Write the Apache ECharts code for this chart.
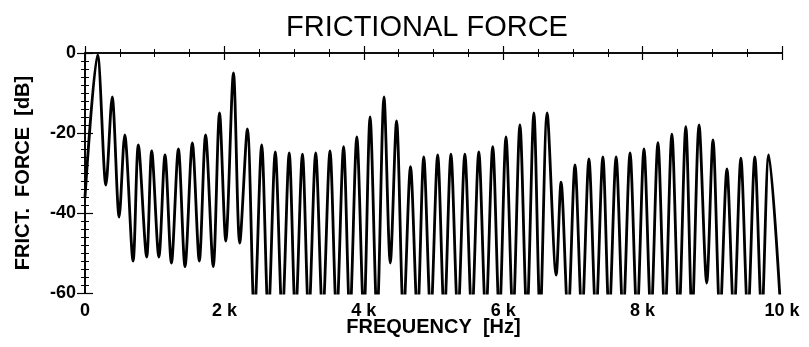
<!DOCTYPE html>
<html>
<head>
<meta charset="utf-8">
<script src="https://cdn.jsdelivr.net/npm/echarts@6/dist/echarts.min.js"></script>
<style>
  html, body { margin: 0; padding: 0; background: #fff; }
  #main { width: 809px; height: 347px; }
</style>
</head>
<body>
<div id="main"></div>
<script>
// spectrum: peaks and troughs (kHz, dB)
// troughs below the axis floor are estimated at -66 dB
var freqKHz = [
  0.0, 0.18, 0.30, 0.39, 0.49, 0.57, 0.69, 0.765, 0.885, 0.957,
  1.06, 1.148, 1.24, 1.34, 1.435, 1.54, 1.64, 1.73, 1.84, 1.93,
  2.02, 2.13, 2.22, 2.33, 2.43, 2.535, 2.63, 2.73, 2.83, 2.93,
  3.02, 3.12, 3.21, 3.31, 3.41, 3.515, 3.61, 3.71, 3.80, 3.90,
  4.00, 4.09, 4.19, 4.29, 4.38, 4.47, 4.57, 4.67, 4.77, 4.86,
  4.96, 5.06, 5.155, 5.25, 5.35, 5.45, 5.55, 5.65, 5.75, 5.85,
  5.945, 6.04, 6.14, 6.24, 6.34, 6.44, 6.53, 6.63, 6.76, 6.83,
  6.93, 7.03, 7.13, 7.23, 7.33, 7.43, 7.52, 7.62, 7.72, 7.82,
  7.92, 8.02, 8.12, 8.22, 8.32, 8.42, 8.52, 8.62, 8.71, 8.81,
  8.92, 9.01, 9.11, 9.21, 9.31, 9.41, 9.51, 9.61, 9.71, 9.81,
  10.0
];
var levelDb = [
  -36, -0.5, -33, -11, -41, -20.5, -52, -23, -51, -24.5,
  -51, -25.5, -52.5, -24, -53.4, -22.5, -52, -20.5, -53.4, -15,
  -47, -5, -47.5, -19, -66, -23, -66, -24.7, -66, -25,
  -66, -25.3, -66, -25, -66, -24.5, -66, -23.4, -66, -21,
  -66, -16, -66, -11, -52.5, -17, -66, -28.4, -66, -26,
  -66, -25.5, -66, -25.3, -66, -25.3, -66, -24.7, -66, -23.4,
  -66, -21, -66, -18, -66, -15, -66, -15, -55.5, -32.3,
  -66, -28, -66, -26.5, -66, -26, -66, -26, -66, -25,
  -66, -24, -66, -22.4, -66, -20.3, -66, -18.4, -66, -18,
  -57.5, -21.75, -66, -29, -66, -26.3, -66, -26, -66, -25.5,
  -70
];
var xTickLabels = ['0', '2 k', '4 k', '6 k', '8 k', '10 k'];
var yTickLabels = ['-60', '-40', '-20', '0'];

var chart = echarts.init(document.getElementById('main'));

var font = 'Liberation Sans';
var black = '#000';

var xBase = {
  type: 'value',
  min: 0,
  max: 10,
  interval: 2,
  axisLine: { show: true, lineStyle: { color: black, width: 1.6 } },
  axisTick: { show: true, inside: true, length: 7, lineStyle: { color: black, width: 1.2 } },
  minorTick: { show: true, splitNumber: 4, length: 4, lineStyle: { color: black, width: 1 } },
  splitLine: { show: false }
};
var yBase = {
  type: 'value',
  min: -60,
  max: 0,
  interval: 20,
  axisLine: { show: true, lineStyle: { color: black, width: 1.6 } },
  axisTick: { show: true, inside: true, length: 8, lineStyle: { color: black, width: 1.2 } },
  minorTick: { show: true, splitNumber: 10, length: 4, lineStyle: { color: black, width: 1 } },
  splitLine: { show: false }
};

var points = freqKHz.map(function (f, i) { return [f, levelDb[i]]; });

var option = {
  backgroundColor: '#fff',
  animation: false,
  title: {
    text: 'FRICTIONAL FORCE',
    left: 286,
    top: 13,
    padding: 0,
    textStyle: { fontFamily: font, fontSize: 29, fontWeight: 'normal', color: black }
  },
  grid: { left: 85, right: 27, top: 53, bottom: 54, outerBoundsMode: 'none' },
  xAxis: [
    Object.assign({}, xBase, {
      position: 'bottom',
      name: 'FREQUENCY  [Hz]',
      nameLocation: 'middle',
      nameGap: 24,
      nameMoveOverlap: false,
      nameTextStyle: { fontFamily: font, fontSize: 20, fontWeight: 'bold', color: black },
      axisLabel: {
        margin: 9,
        fontFamily: font, fontSize: 18, fontWeight: 'bold', color: black,
        formatter: function (v) { return xTickLabels[Math.round(v / 2)]; }
      }
    }),
    Object.assign({}, xBase, { position: 'top', axisLabel: { show: false } })
  ],
  yAxis: [
    Object.assign({}, yBase, {
      position: 'left',
      name: 'FRICT.  FORCE  [dB]',
      nameLocation: 'middle',
      nameGap: 52,
      nameMoveOverlap: false,
      nameTextStyle: { fontFamily: font, fontSize: 20, fontWeight: 'bold', color: black },
      axisLabel: {
        margin: 9,
        fontFamily: font, fontSize: 18, fontWeight: 'bold', color: black,
        formatter: function (v) { return yTickLabels[Math.round((v + 60) / 20)]; }
      }
    }),
    Object.assign({}, yBase, { position: 'right', axisLabel: { show: false } })
  ],
  series: [{
    type: 'line',
    data: points,
    showSymbol: false,
    smooth: 0.3,
    clip: true,
    lineStyle: { color: black, width: 2.8 }
  }]
};

chart.setOption(option);
</script>
</body>
</html>
